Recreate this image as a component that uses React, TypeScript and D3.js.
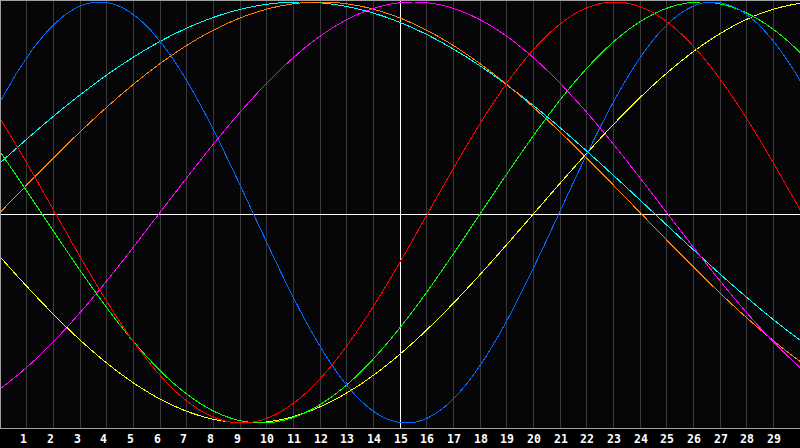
import React from "react";
import * as d3 from "d3";

const W = 800;
const H = 448;
const PLOT_BOTTOM = 428;

const dayTicks = d3.range(1, 30);
const TODAY = 15;
const DAYS = 30;

// cycles: period (days) and day of a peak
const cycleNames = ["Spiritual", "Awareness", "Intuitive", "Aesthetic", "Intellectual", "Emotional", "Physical"];
const cyclePeriods = [53, 48, 38, 43, 33, 28, 23];
const cyclePeakDays = [11.25, 12.0, 15.5, -12.2, -6.71, -4.94, 3.73];
const cycleColors = ["#00ffff", "#ff8000", "#ff00ff", "#ffff00", "#00ff00", "#ff0000", "#0066ff"];

export default function App() {
  React.useEffect(() => {
    document.body.style.margin = "0";
    document.body.style.background = "#000";
  }, []);

  const x = d3.scaleLinear().domain([0, DAYS]).range([0, W]);
  const y = d3.scaleLinear().domain([-1, 1]).range([423, 2]);

  const samples = d3.range(0, DAYS + 0.001, 0.05);
  const line = d3
    .line<number>()
    .x((d) => x(d))
    .curve(d3.curveLinear);

  return (
    <svg width={W} height={H} style={{ display: "block", position: "absolute", left: 0, top: 0 }}>
      <rect x={0} y={0} width={W} height={H} fill="#000000" />
      <rect x={0} y={0} width={W} height={PLOT_BOTTOM} fill="#060609" />
      {dayTicks.map((d) => (
        <line
          key={"g" + d}
          x1={Math.floor(x(d)) + 0.5}
          x2={Math.floor(x(d)) + 0.5}
          y1={0}
          y2={PLOT_BOTTOM}
          stroke="#3a3a3a"
          strokeWidth={1}
          shapeRendering="crispEdges"
        />
      ))}
      <line x1={0} x2={W} y1={214.5} y2={214.5} stroke="#ffffff" strokeWidth={1} shapeRendering="crispEdges" />
      <line
        x1={Math.floor(x(TODAY)) + 0.5}
        x2={Math.floor(x(TODAY)) + 0.5}
        y1={0}
        y2={PLOT_BOTTOM}
        stroke="#ffffff"
        strokeWidth={1}
        shapeRendering="crispEdges"
      />
      {cyclePeriods.map((p, i) => {
        const peak = cyclePeakDays[i];
        const path = line.y((t) => y(Math.cos((2 * Math.PI * (t - peak)) / p)))(samples);
        return (
          <path
            key={cycleNames[i]}
            d={path || ""}
            fill="none"
            stroke={cycleColors[i]}
            strokeWidth={1}
            shapeRendering="crispEdges"
          />
        );
      })}
      <line x1={0} x2={W} y1={0.5} y2={0.5} stroke="#a0a0a0" strokeWidth={1} shapeRendering="crispEdges" />
      <line x1={0.5} x2={0.5} y1={0} y2={PLOT_BOTTOM} stroke="#a0a0a0" strokeWidth={1} shapeRendering="crispEdges" />
      <line x1={0} x2={W} y1={PLOT_BOTTOM + 0.5} y2={PLOT_BOTTOM + 0.5} stroke="#a0a0a0" strokeWidth={1} shapeRendering="crispEdges" />
      {dayTicks.map((d) => (
        <text
          key={"t" + d}
          x={Math.floor(x(d)) - 6}
          y={443}
          fill="#ffffff"
          fontFamily="'DejaVu Sans Mono', monospace"
          fontWeight="bold"
          fontSize={11.5}
        >
          {d}
        </text>
      ))}
    </svg>
  );
}
